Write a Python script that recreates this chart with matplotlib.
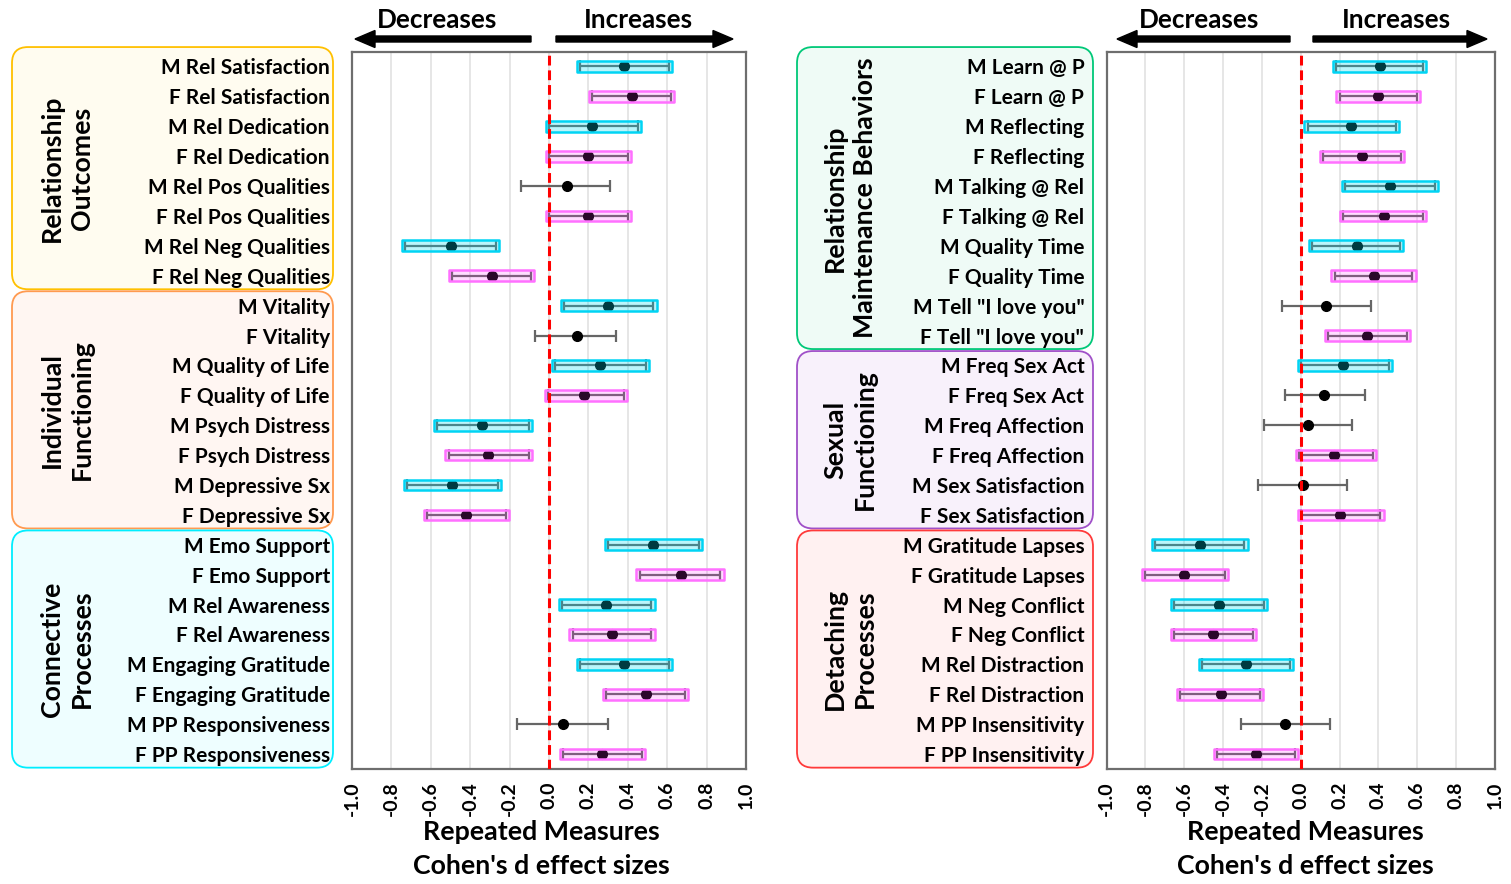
import matplotlib
matplotlib.use("Agg")
import matplotlib.pyplot as plt
import numpy as np
from matplotlib.patches import FancyBboxPatch, FancyArrow

plt.rcParams['font.family'] = ['Lato', 'DejaVu Sans']
plt.rcParams['font.weight'] = 'bold'

# ---- data: left panel ----
left_labels = [
    'M Rel Satisfaction', 'F Rel Satisfaction', 'M Rel Dedication', 'F Rel Dedication',
    'M Rel Pos Qualities', 'F Rel Pos Qualities', 'M Rel Neg Qualities', 'F Rel Neg Qualities',
    'M Vitality', 'F Vitality', 'M Quality of Life', 'F Quality of Life',
    'M Psych Distress', 'F Psych Distress', 'M Depressive Sx', 'F Depressive Sx',
    'M Emo Support', 'F Emo Support', 'M Rel Awareness', 'F Rel Awareness',
    'M Engaging Gratitude', 'F Engaging Gratitude', 'M PP Responsiveness', 'F PP Responsiveness',
]
left_d = [0.38, 0.42, 0.22, 0.20, 0.09, 0.20, -0.50, -0.29,
          0.30, 0.14, 0.26, 0.18, -0.34, -0.31, -0.49, -0.42,
          0.53, 0.67, 0.29, 0.32, 0.38, 0.49, 0.07, 0.27]
left_lo = [0.156, 0.22, 0.00, 0.00, -0.14, 0.00, -0.73, -0.49,
           0.075, -0.07, 0.03, -0.005, -0.57, -0.51, -0.72, -0.62,
           0.30, 0.46, 0.065, 0.12, 0.156, 0.29, -0.16, 0.07]
left_hi = [0.61, 0.62, 0.45, 0.40, 0.31, 0.40, -0.27, -0.09,
           0.53, 0.34, 0.49, 0.38, -0.10, -0.10, -0.26, -0.22,
           0.76, 0.87, 0.52, 0.52, 0.61, 0.69, 0.30, 0.47]
left_sig = [1, 1, 1, 1, 0, 1, 1, 1,
            1, 0, 1, 1, 1, 1, 1, 1,
            1, 1, 1, 1, 1, 1, 0, 1]
left_groups = ['Relationship\nOutcomes', 'Individual\nFunctioning', 'Connective\nProcesses']
left_group_sizes = [8, 8, 8]

# ---- data: right panel ----
right_labels = [
    'M Learn @ P', 'F Learn @ P', 'M Reflecting', 'F Reflecting',
    'M Talking @ Rel', 'F Talking @ Rel', 'M Quality Time', 'F Quality Time',
    'M Tell "I love you"', 'F Tell "I love you"',
    'M Freq Sex Act', 'F Freq Sex Act', 'M Freq Affection', 'F Freq Affection',
    'M Sex Satisfaction', 'F Sex Satisfaction',
    'M Gratitude Lapses', 'F Gratitude Lapses', 'M Neg Conflict', 'F Neg Conflict',
    'M Rel Distraction', 'F Rel Distraction', 'M PP Insensitivity', 'F PP Insensitivity',
]
right_d = [0.41, 0.40, 0.26, 0.315, 0.46, 0.43, 0.29, 0.375, 0.13, 0.34,
           0.22, 0.12, 0.035, 0.17, 0.01, 0.20,
           -0.52, -0.60, -0.42, -0.45, -0.28, -0.41, -0.08, -0.23]
right_lo = [0.18, 0.20, 0.035, 0.116, 0.23, 0.22, 0.06, 0.174, -0.095, 0.14,
            0.00, -0.08, -0.19, -0.008, -0.22, 0.00,
            -0.75, -0.80, -0.65, -0.65, -0.51, -0.62, -0.31, -0.43]
right_hi = [0.63, 0.60, 0.49, 0.516, 0.69, 0.63, 0.51, 0.575, 0.36, 0.545,
            0.456, 0.33, 0.265, 0.37, 0.24, 0.41,
            -0.29, -0.39, -0.19, -0.245, -0.056, -0.21, 0.15, -0.03]
right_sig = [1, 1, 1, 1, 1, 1, 1, 1, 0, 1,
             1, 0, 0, 1, 0, 1,
             1, 1, 1, 1, 1, 1, 0, 1]
right_groups = ['Relationship\nMaintenance Behaviors', 'Sexual\nFunctioning', 'Detaching\nProcesses']
right_group_sizes = [10, 6, 8]

xticks = [-1.0, -0.8, -0.6, -0.4, -0.2, 0.0, 0.2, 0.4, 0.6, 0.8, 1.0]

W, H = 1511, 884
fig = plt.figure(figsize=(W / 100, H / 100), dpi=100)


def inch(x, y):
    # pixel coords (from top-left) -> inches from bottom-left
    return x / 100, (H - y) / 100


def forest(ax, labels, d, lo, hi, sig):
    y = np.arange(len(labels))
    d = np.array(d)
    lo = np.array(lo)
    hi = np.array(hi)
    ax.errorbar(d, y, xerr=[d - lo, hi - d], fmt='none', ecolor='#666666',
                elinewidth=1.6, capsize=4, capthick=1.6, zorder=3)
    ax.plot(d, y, 'o', color='black', ms=7, zorder=4)
    pad = 0.016
    for i in range(len(labels)):
        if not sig[i]:
            continue
        if labels[i].startswith('M'):
            fc, ec = (0.0, 0.86, 0.95, 0.27), '#00d4f4'
        else:
            fc, ec = (1.0, 0.2, 1.0, 0.17), '#ff70ff'
        ax.barh(y[i], hi[i] - lo[i] + 2 * pad, left=lo[i] - pad, height=0.36,
                facecolor=fc, edgecolor=ec, linewidth=1.8, joinstyle='round', zorder=5)
    ax.axvline(0, color='red', lw=2.2, ls=(0, (3.2, 1.6)), zorder=6)
    ax.set_xlim(-1, 1)
    ax.set_ylim(len(labels) - 0.5, -0.5)
    ax.set_xticks(xticks)
    ax.set_xticklabels(['{:.1f}'.format(v) for v in xticks], rotation=90,
                       fontsize=14, fontweight='bold')
    ax.set_yticks(y)
    ax.set_yticklabels(labels, fontsize=15, fontweight='bold')
    ax.tick_params(axis='both', length=0)
    ax.tick_params(axis='x', pad=9)
    ax.tick_params(axis='y', pad=16)
    ax.grid(axis='x', color='#e2e2e2', lw=1.2, zorder=0)
    ax.set_axisbelow(True)
    for s in ax.spines.values():
        s.set_color('#6e6e6e')
        s.set_linewidth(1.6)


def group_boxes(x0, x1, names, sizes, edges, fills, label_x):
    row0, step = 66, 29.9
    start = 0
    for k, (name, n) in enumerate(zip(names, sizes)):
        top = row0 + (start - 0.5) * step + 1
        bot = row0 + (start + n - 0.5) * step - 1
        if k == 0:
            top -= 5
        bx, by = inch(x0, bot)
        box = FancyBboxPatch((bx, by), (x1 - x0) / 100, (bot - top) / 100,
                             boxstyle='round,pad=0,rounding_size=0.16',
                             facecolor=fills[k], edgecolor=edges[k], lw=1.3,
                             transform=fig.dpi_scale_trans, zorder=-1)
        fig.add_artist(box)
        tx, ty = inch(label_x, (top + bot) / 2)
        fig.text(tx / (W / 100), ty / (H / 100), name, rotation=90, ha='center', va='center',
                 multialignment='center', fontsize=19.3, fontweight='bold', linespacing=1.3)
        start += n


def direction_arrows(x_left_tip, x_left_tail, x_right_tail, x_right_tip, x_dec, x_inc):
    for tail, tip in [(x_left_tail, x_left_tip), (x_right_tail, x_right_tip)]:
        tx, ty = inch(tail, 39)
        hx, _ = inch(tip, 39)
        fig.add_artist(FancyArrow(tx, ty, hx - tx, 0, width=0.06, head_width=0.17,
                                  head_length=0.2, length_includes_head=True,
                                  color='black', transform=fig.dpi_scale_trans))
    for xc, txt in [(x_dec, 'Decreases'), (x_inc, 'Increases')]:
        fig.text(xc / W, 1 - 28 / H, txt, ha='center', va='baseline',
                 fontsize=18.8, fontweight='bold')


ax1 = fig.add_axes([352 / W, (H - 769) / H, 394 / W, 717.5 / H])
forest(ax1, left_labels, left_d, left_lo, left_hi, left_sig)
ax2 = fig.add_axes([1106.5 / W, (H - 769) / H, 388.5 / W, 717.5 / H])
forest(ax2, right_labels, right_d, right_lo, right_hi, right_sig)

group_boxes(12, 333, left_groups, left_group_sizes,
            ['#ffc000', '#ff9a50', '#00eeff'],
            ['#fffcf0', '#fff6f2', '#eefeff'], 67)
group_boxes(797, 1093, right_groups, right_group_sizes,
            ['#00c878', '#a050c8', '#ff3a3a'],
            ['#effbf6', '#f8f1fb', '#fff1f1'], 850)

direction_arrows(355, 531, 556, 733, 437, 638)
direction_arrows(1117, 1290, 1313, 1487, 1199, 1396)

for xc in [541, 1305]:
    fig.text(xc / W, 1 - 832 / H, 'Repeated Measures', ha='center', va='center',
             fontsize=19.3, fontweight='bold')
    fig.text(xc / W, 1 - 866 / H, "Cohen's d effect sizes", ha='center', va='center',
             fontsize=19.3, fontweight='bold')

fig.savefig('out.png', dpi=100, facecolor='white')
